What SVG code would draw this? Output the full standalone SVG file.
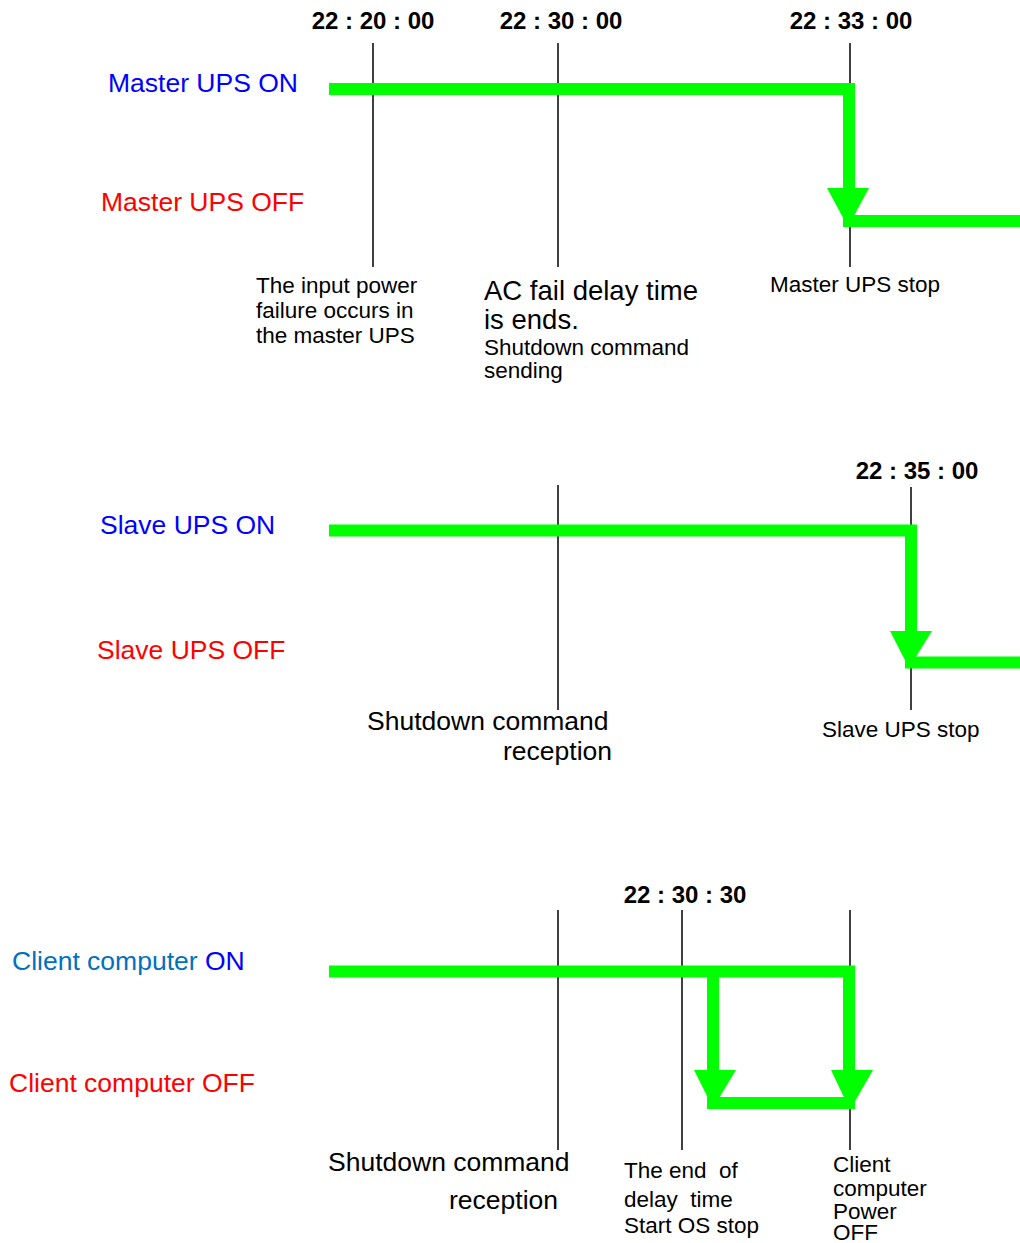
<svg xmlns="http://www.w3.org/2000/svg" width="1020" height="1243" viewBox="0 0 1020 1243">
<style>
text{font-family:"Liberation Sans",Arial,sans-serif;fill:#000}
.t{font-weight:bold;font-size:24px;text-anchor:middle}
.big{font-size:26.5px}
.sm{font-size:22.5px}
.on{fill:#0000FF}
.off{fill:#FF0000}
.cl{fill:#0070C0}
.tick{stroke:#000;stroke-width:1.5;fill:none}
.g{stroke:#00FF00;stroke-width:12;fill:none;stroke-linejoin:miter}
.ah{fill:#00FF00}
</style>
<rect width="1020" height="1243" fill="#fff"/>
<g id="ticks">
<line class="tick" x1="373" y1="43" x2="373" y2="267"/>
<line class="tick" x1="558" y1="43" x2="558" y2="267"/>
<line class="tick" x1="850" y1="43" x2="850" y2="267"/>
<line class="tick" x1="558" y1="485" x2="558" y2="710"/>
<line class="tick" x1="911" y1="487" x2="911" y2="710"/>
<line class="tick" x1="558" y1="910" x2="558" y2="1150"/>
<line class="tick" x1="682" y1="910" x2="682" y2="1150"/>
<line class="tick" x1="850" y1="910" x2="850" y2="1150"/>
</g>
<g id="connectors">
<path class="g" d="M329 89 H849 V192"/>
<polygon class="ah" points="827,188 869,188 848,227"/>
<path class="g" d="M843 221 H1020"/>
<path class="g" d="M329 530.5 H911 V635"/>
<polygon class="ah" points="890,631 932,631 909,668"/>
<path class="g" d="M905 662.5 H1020"/>
<path class="g" d="M329 971.5 H849 V1074"/>
<path class="g" d="M713 971.5 V1074"/>
<polygon class="ah" points="694,1070 736,1070 713,1108"/>
<polygon class="ah" points="831,1070 873,1070 850,1110"/>
<path class="g" d="M707 1103 H855"/>
</g>
<g id="times">
<text class="t" x="373" y="29">22 : 20 : 00</text>
<text class="t" x="561" y="29">22 : 30 : 00</text>
<text class="t" x="851" y="29">22 : 33 : 00</text>
<text class="t" x="917" y="479">22 : 35 : 00</text>
<text class="t" x="685" y="903">22 : 30 : 30</text>
</g>
<g id="master">
<text class="big on" x="108" y="92">Master UPS ON</text>
<text class="big off" x="101" y="211">Master UPS OFF</text>
<text class="sm" x="256" y="293">The input power</text>
<text class="sm" x="256" y="318">failure occurs in</text>
<text class="sm" x="256" y="343">the master UPS</text>
<text x="484" y="300" font-size="27.5">AC fail delay time</text>
<text x="484" y="329" font-size="27.5">is ends.</text>
<text class="sm" x="484" y="355">Shutdown command</text>
<text class="sm" x="484" y="378">sending</text>
<text class="sm" x="770" y="292">Master UPS stop</text>
</g>
<g id="slave">
<text class="big on" x="100" y="534">Slave UPS ON</text>
<text class="big off" x="97" y="659">Slave UPS OFF</text>
<text class="big" x="367" y="730">Shutdown command</text>
<text class="big" x="612" y="760" text-anchor="end">reception</text>
<text class="sm" x="822" y="737">Slave UPS stop</text>
</g>
<g id="client">
<text class="big" x="12" y="970"><tspan class="cl">Client computer </tspan><tspan class="on">ON</tspan></text>
<text class="big off" x="9" y="1092">Client computer OFF</text>
<text class="big" x="328" y="1171">Shutdown command</text>
<text class="big" x="449" y="1209">reception</text>
<text class="sm" x="624" y="1178" xml:space="preserve">The end  of</text>
<text class="sm" x="624" y="1207" xml:space="preserve">delay  time</text>
<text class="sm" x="624" y="1233">Start OS stop</text>
<text class="sm" x="833" y="1172">Client</text>
<text class="sm" x="833" y="1196">computer</text>
<text class="sm" x="833" y="1219">Power</text>
<text class="sm" x="833" y="1240">OFF</text>
</g>
</svg>
